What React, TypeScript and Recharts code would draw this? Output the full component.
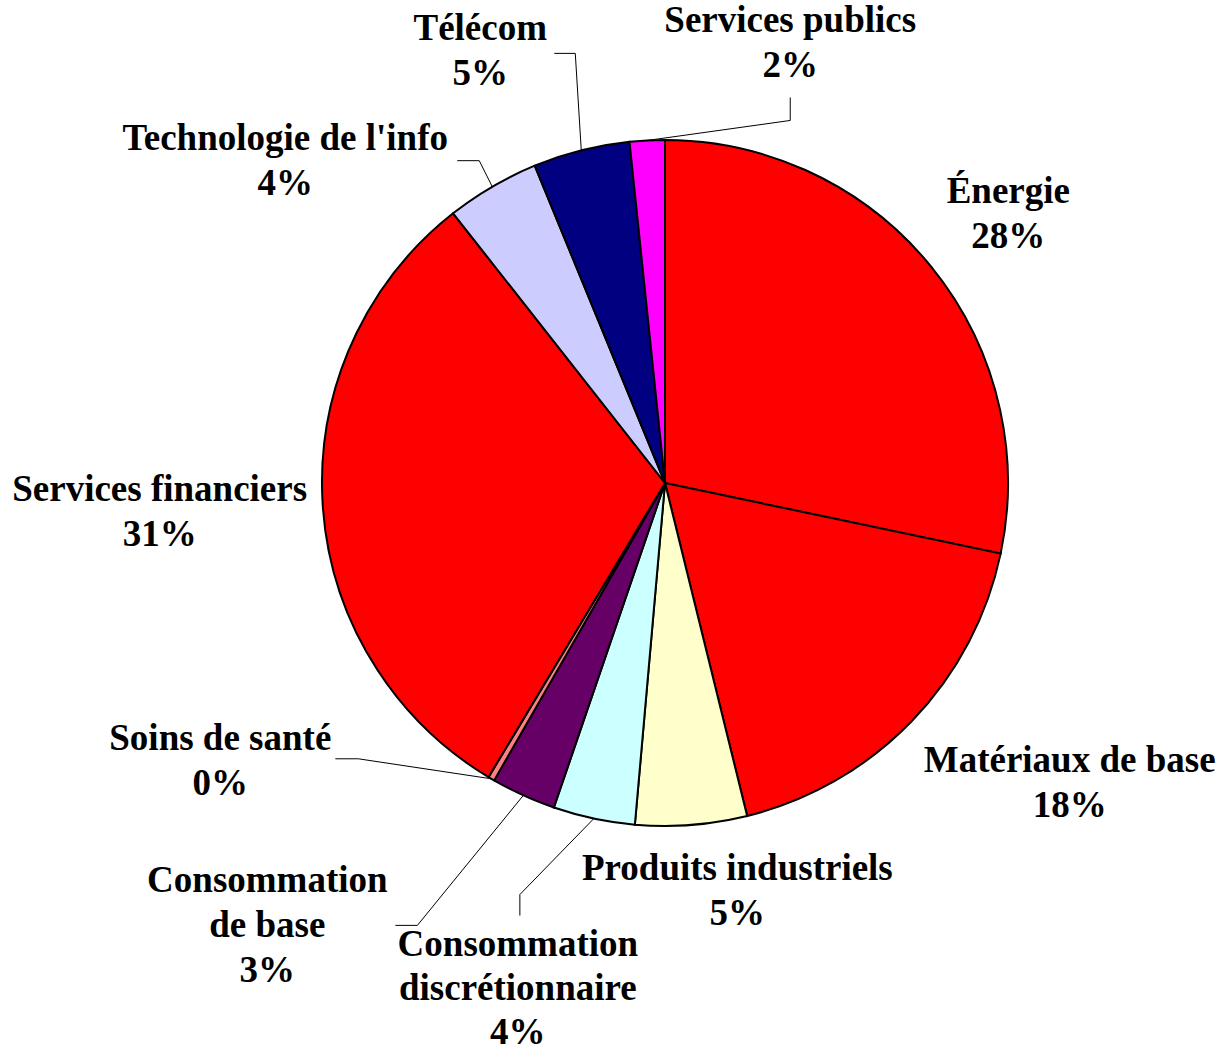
import React from 'react';
import { PieChart, Pie, Cell } from 'recharts';

// ---- data ----
const categories: string[] = [
  'Énergie',
  'Matériaux de base',
  'Produits industriels',
  'Consommation discrétionnaire',
  'Consommation de base',
  'Soins de santé',
  'Services financiers',
  "Technologie de l'info",
  'Télécom',
  'Services publics',
];

const values: number[] = [28.3, 17.85, 5.25, 3.85, 3.05, 0.3, 30.8, 4.4, 4.55, 1.65];

// label text split into lines
const labelTexts: string[][] = [
  ['Énergie'],
  ['Matériaux de base'],
  ['Produits industriels'],
  ['Consommation', 'discrétionnaire'],
  ['Consommation', 'de base'],
  ['Soins de santé'],
  ['Services financiers'],
  ["Technologie de l'info"],
  ['Télécom'],
  ['Services publics'],
];

// ---- styles ----
const colors: string[] = [
  '#FF0000',
  '#FF0000',
  '#FFFFCC',
  '#CCFFFF',
  '#660066',
  '#FF8080',
  '#FF0000',
  '#CCCCFF',
  '#000080',
  '#FF00FF',
];

// label placement relative to the rim point at each slice's mid angle
const labelOffsets: [number, number][] = [
  [77, -64],
  [158, 51],
  [46, 55],
  [-76, 137],
  [-256, 97],
  [-271, -29],
  [-163, -4],
  [-207, -37],
  [-101, -110],
  [143, -108],
];

// per-label line spacing
const lineHeights: number[] = [45, 45, 45, 44, 45, 45, 45, 45, 45, 45];

// leader line bend / end points relative to the same rim point (null = no leader)
const leaderOffsets: ([number, number][] | null)[] = [
  null,
  null,
  null,
  [[-74, 76], [-74, 97]],
  [[-106, 130], [-128, 130]],
  [[-133, -20], [-156, -20]],
  null,
  [[-13, -26], [-35, -26]],
  [[-6, -97], [-27, -97]],
  [[143, -20], [143, -43]],
];

const chartData = categories.map((name, i) => ({ name, value: values[i] }));
const total = values.reduce((a, b) => a + b, 0);

const FONT = "'Liberation Serif', 'Times New Roman', serif";
const FONT_SIZE = 37;
const RAD = Math.PI / 180;

const renderLabel = (props: any) => {
  const { cx, cy, midAngle, outerRadius, index } = props;
  const rx = cx + Math.cos(-midAngle * RAD) * outerRadius;
  const ry = cy + Math.sin(-midAngle * RAD) * outerRadius;
  const [ox, oy] = labelOffsets[index];
  const lx = rx + ox;
  const ly = ry + oy;
  const lines = [...labelTexts[index], `${Math.round((values[index] / total) * 100)}%`];
  const leader = leaderOffsets[index];
  return (
    <g key={`lbl-${index}`}>
      {leader && (
        <polyline
          points={[[rx, ry], ...leader.map(([dx, dy]) => [rx + dx, ry + dy])]
            .map((p) => p.join(','))
            .join(' ')}
          fill="none"
          stroke="#000"
          strokeWidth={1}
        />
      )}
      <text
        x={lx}
        y={ly}
        textAnchor="middle"
        fontFamily={FONT}
        fontWeight="bold"
        fontSize={FONT_SIZE}
        fill="#000"
      >
        {lines.map((t, k) => (
          <tspan key={k} x={lx} dy={k === 0 ? 0 : lineHeights[index]}>
            {t}
          </tspan>
        ))}
      </text>
    </g>
  );
};

export default function App() {
  return (
    <div style={{ position: 'absolute', left: 0, top: 0, width: 1220, height: 1053, background: '#fff' }}>
      <PieChart width={1220} height={1053} margin={{ top: 0, right: 0, bottom: 0, left: 0 }}>
        <Pie
          data={chartData}
          dataKey="value"
          nameKey="name"
          cx={665}
          cy={483}
          outerRadius={343}
          startAngle={90}
          endAngle={-270}
          stroke="#000"
          strokeWidth={2}
          label={renderLabel}
          labelLine={false}
          isAnimationActive={false}
        >
          {chartData.map((d, i) => (
            <Cell key={d.name} fill={colors[i]} stroke="#000" strokeWidth={2} />
          ))}
        </Pie>
      </PieChart>
    </div>
  );
}
